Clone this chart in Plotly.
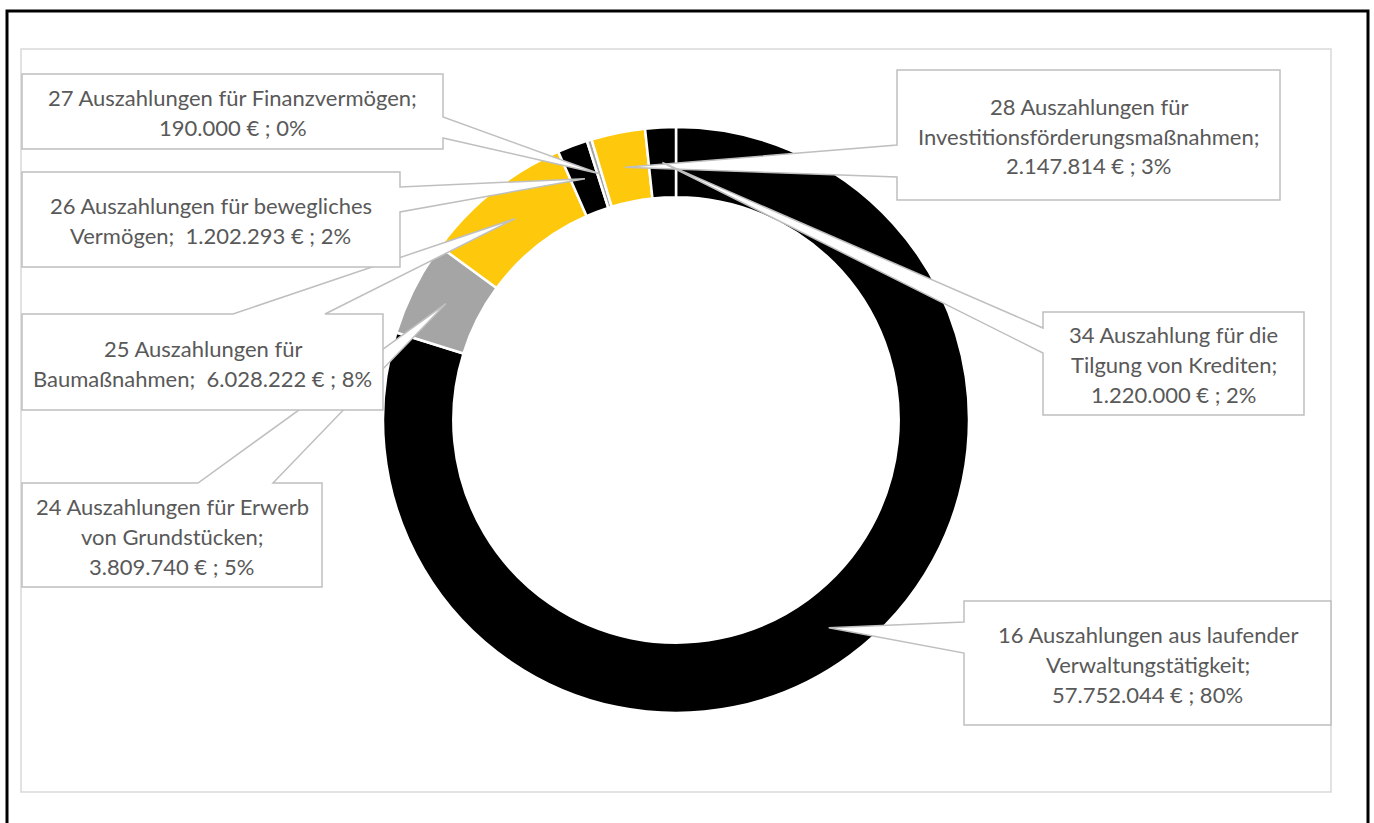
import math
import plotly.graph_objects as go

W, H = 1374, 823

# ---------------- data ----------------
codes = ["16", "24", "25", "26", "27", "28", "34"]
names = [
    "Auszahlungen aus laufender Verwaltungstätigkeit",
    "Auszahlungen für Erwerb von Grundstücken",
    "Auszahlungen für Baumaßnahmen",
    "Auszahlungen für bewegliches Vermögen",
    "Auszahlungen für Finanzvermögen",
    "Auszahlungen für Investitionsförderungsmaßnahmen",
    "Auszahlung für die Tilgung von Krediten",
]
values = [57752044, 3809740, 6028222, 1202293, 190000, 2147814, 1220000]
colors = ["#000000", "#A5A5A5", "#FEC90D", "#000000", "#A5A5A5", "#FEC90D", "#000000"]
# label text, wrapped as in the reference ({v} = value, {p} = percent)
label_templates = [
    ["16 Auszahlungen aus laufender", "Verwaltungstätigkeit;", "{v} € ; {p}%"],
    ["24 Auszahlungen für Erwerb", "von Grundstücken;", "{v} € ; {p}%"],
    ["25 Auszahlungen für", "Baumaßnahmen;\u00a0 {v} € ; {p}%"],
    ["26 Auszahlungen für bewegliches", "Vermögen;\u00a0 {v} € ; {p}%"],
    ["27 Auszahlungen für Finanzvermögen;", "{v} € ; {p}%"],
    ["28 Auszahlungen für", "Investitionsförderungsmaßnahmen;", "{v} € ; {p}%"],
    ["34 Auszahlung für die", "Tilgung von Krediten;", "{v} € ; {p}%"],
]

# ---------------- layout geometry (pixels) ----------------
CX, CY, R_OUT, HOLE = 676, 420, 293, 0.76
R_MID = R_OUT * (1 + HOLE) / 2
# callout boxes: (x0, y0, x1, y1), side of the pointer, two base positions on that side
callouts = [
    ((964, 601, 1331, 725), "left", (622, 653)),
    ((22, 483, 322, 587), "top", (198, 273)),
    ((22, 314, 383, 410), "top", (233, 325)),
    ((22, 172, 400, 267), "right", (187, 212)),
    ((22, 74, 443, 149), "right", (117, 138)),
    ((897, 70, 1280, 200), "left", (145, 177)),
    ((1043, 312, 1304, 415), "left", (328, 353)),
]
LINE_H = 30


def px(x):
    return x / W


def py(y):
    return 1 - y / H


def de(v):
    return f"{v:,}".replace(",", ".")


total = sum(values)

fig = go.Figure()
fig.add_trace(go.Pie(
    labels=[f"{c} {n}" for c, n in zip(codes, names)],
    values=values,
    sort=False,
    direction="clockwise",
    rotation=0,
    hole=HOLE,
    marker=dict(colors=colors, line=dict(color="#FFFFFF", width=2.5)),
    textinfo="none",
    showlegend=False,
    domain=dict(x=[px(CX - R_OUT), px(CX + R_OUT)], y=[py(CY + R_OUT), py(CY - R_OUT)]),
))

shapes = []
annotations = []

# plot-area frame and outer frame
shapes.append(dict(type="rect", xref="paper", yref="paper", x0=px(21), x1=px(1331),
                   y0=py(792), y1=py(49), line=dict(color="#D9D9D9", width=1.5),
                   layer="below"))
shapes.append(dict(type="rect", xref="paper", yref="paper", x0=px(7), x1=px(1368),
                   y0=py(840), y1=py(11), line=dict(color="#000000", width=3),
                   layer="above"))

cum = 0
for i, v in enumerate(values):
    theta = 2 * math.pi * (cum + v / 2) / total
    cum += v
    tx = CX + R_MID * math.sin(theta)
    ty = CY - R_MID * math.cos(theta)
    (x0, y0, x1, y1), side, base = callouts[i]
    b0, b1 = sorted(base)
    pts = [(x0, y0)]
    if side == "top":
        pts += [(b0, y0), (tx, ty), (b1, y0)]
    pts.append((x1, y0))
    if side == "right":
        pts += [(x1, b0), (tx, ty), (x1, b1)]
    pts.append((x1, y1))
    pts.append((x0, y1))
    if side == "left":
        pts += [(x0, b1), (tx, ty), (x0, b0)]
    path = "M " + " L ".join(f"{px(a):.5f},{py(b):.5f}" for a, b in pts) + " Z"
    shapes.append(dict(type="path", xref="paper", yref="paper", path=path,
                       fillcolor="#FFFFFF", line=dict(color="#BFBFBF", width=1.5),
                       layer="above"))
    pct = round(v / total * 100)
    lines = [t.format(v=de(v), p=pct) for t in label_templates[i]]
    n = len(lines)
    mx = (x0 + x1) / 2
    my = (y0 + y1) / 2 + 1
    for j, ln in enumerate(lines):
        yy = my + (j - (n - 1) / 2) * LINE_H
        annotations.append(dict(xref="paper", yref="paper", x=px(mx), y=py(yy),
                                text=ln, showarrow=False, xanchor="center",
                                yanchor="middle",
                                font=dict(family="Lato, 'Open Sans', sans-serif",
                                          size=22, color="#595959")))

fig.update_layout(
    width=W, height=H,
    margin=dict(l=0, r=0, t=0, b=0),
    paper_bgcolor="#FFFFFF",
    plot_bgcolor="#FFFFFF",
    shapes=shapes,
    annotations=annotations,
)

fig.write_html("out.html", config={"displayModeBar": False},
               post_script="document.body.style.margin='0';document.body.style.overflow='hidden';")
